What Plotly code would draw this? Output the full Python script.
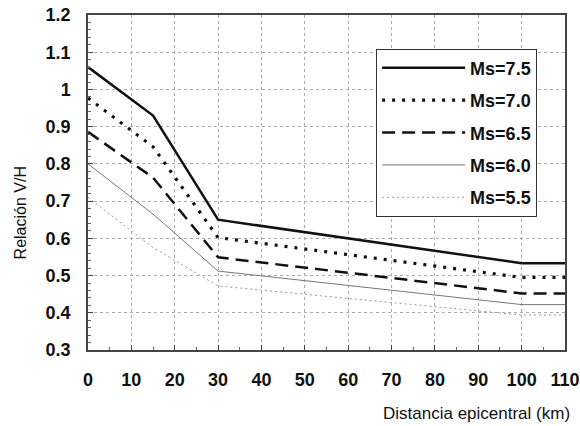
import plotly.graph_objects as go

distance_km = [0, 15, 30, 100, 110]
series_names = ["Ms=7.5", "Ms=7.0", "Ms=6.5", "Ms=6.0", "Ms=5.5"]
ms75 = [1.06, 0.93, 0.65, 0.533, 0.533]
ms70 = [0.977, 0.846, 0.602, 0.495, 0.495]
ms65 = [0.886, 0.763, 0.549, 0.452, 0.452]
ms60 = [0.80, 0.665, 0.512, 0.422, 0.422]
ms55 = [0.71, 0.575, 0.472, 0.394, 0.394]
x_ticks = [0, 10, 20, 30, 40, 50, 60, 70, 80, 90, 100, 110]
y_ticks = [0.3, 0.4, 0.5, 0.6, 0.7, 0.8, 0.9, 1.0, 1.1, 1.2]
y_tick_labels = ["0.3", "0.4", "0.5", "0.6", "0.7", "0.8", "0.9", "1", "1.1", "1.2"]

styles = [
    dict(color="#111111", width=2.5, dash="solid"),
    dict(color="#111111", width=3.2, dash="3px,7px"),
    dict(color="#111111", width=2.5, dash="13px,7px"),
    dict(color="#777777", width=1, dash="solid"),
    dict(color="#999999", width=1, dash="2px,3px"),
]

fig = go.Figure()
for name, ys, st in zip(series_names, [ms75, ms70, ms65, ms60, ms55], styles):
    fig.add_trace(go.Scatter(x=distance_km, y=ys, mode="lines", name=name,
                             legendgroup=name, line=st))

tickfont = dict(family="Liberation Sans", size=18, color="#111111", weight="bold")
fig.update_layout(
    width=580, height=426,
    margin=dict(l=88, r=15, t=15, b=76, autoexpand=False),
    paper_bgcolor="white", plot_bgcolor="white",
    showlegend=True,
    legend=dict(x=0.604, y=0.9, xanchor="left", yanchor="top",
                bgcolor="white", bordercolor="#333333", borderwidth=1,
                font=dict(family="Liberation Sans", size=18, color="#111111", weight="bold"),
                tracegroupgap=6, itemwidth=83),
    xaxis=dict(range=[0, 110], tickvals=x_ticks, tickfont=tickfont, automargin=False,
               showgrid=True, gridcolor="#aaaaaa", griddash="dot", gridwidth=1,
               showline=True, linecolor="#444444", linewidth=1.5, mirror=True,
               ticks="inside", ticklen=5, tickcolor="#444444",
               minor=dict(dtick=5, ticks="inside", ticklen=3, tickcolor="#666666"),
               ticklabelstandoff=13, zeroline=False),
    yaxis=dict(range=[0.3, 1.2], tickvals=y_ticks, ticktext=y_tick_labels, tickfont=tickfont,
               automargin=False,
               showgrid=True, gridcolor="#aaaaaa", griddash="dot", gridwidth=1,
               showline=True, linecolor="#444444", linewidth=1.5, mirror=True,
               ticks="inside", ticklen=5, tickcolor="#444444",
               minor=dict(dtick=0.02, ticks="inside", ticklen=3, tickcolor="#666666"),
               ticklabelstandoff=12, zeroline=False),
)
fig.add_annotation(text="Relación V/H", xref="paper", yref="paper",
                   x=-0.141, y=0.41, xanchor="center", yanchor="middle", textangle=-90,
                   showarrow=False,
                   font=dict(family="Liberation Sans", size=16, color="#111111"))
fig.add_annotation(text="Distancia epicentral (km)", xref="paper", yref="paper",
                   x=1.015, y=-0.19, xanchor="right", yanchor="middle", showarrow=False,
                   font=dict(family="Liberation Sans", size=17, color="#111111"))

fig.write_html("out.html", config={"displayModeBar": False},
               post_script="document.body.style.margin='0';document.body.style.padding='0';")
